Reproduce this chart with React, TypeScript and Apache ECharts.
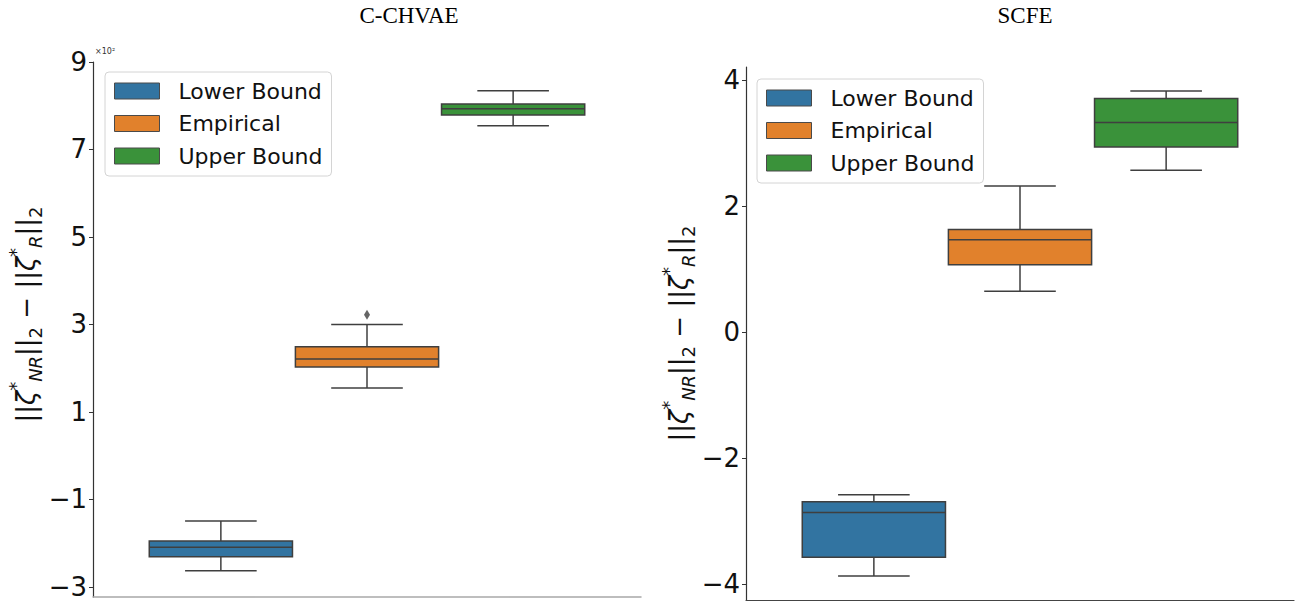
import React, { useEffect, useRef } from 'react';
import * as echarts from 'echarts';

// ---- data ----
const hueNames = ['Lower Bound', 'Empirical', 'Upper Bound'];
const hueColors = ['#3274a1', '#e1812c', '#3a923a'];
const chartTitles = ['C-CHVAE', 'SCFE'];

// box statistics: [min, Q1, median, Q3, max]
const cchvaeLower = [-2.63, -2.31, -2.09, -1.95, -1.49];
const cchvaeEmpirical = [1.55, 2.03, 2.21, 2.49, 3.0];
const cchvaeUpper = [7.54, 7.79, 7.93, 8.04, 8.34];
const cchvaeEmpiricalOutliers = [3.22];

const scfeLower = [-3.87, -3.57, -2.86, -2.69, -2.58];
const scfeEmpirical = [0.65, 1.07, 1.47, 1.63, 2.32];
const scfeUpper = [2.57, 2.94, 3.33, 3.71, 3.83];

const cchvaeTicks = [-3, -1, 1, 3, 5, 7, 9];
const scfeTicks = [-4, -2, 0, 2, 4];

// ---- layout helpers ----
const BOX_W = (0.8 / 3) * 0.98;
const hueOffset = (i: number) => (i - 1) * (0.8 / 3);
const STROKE = '#3f3f3f';
const FONT = 'DejaVu Sans';

function boxSeries(gridIdx: number, hueIdx: number, stats: number[]) {
  return {
    type: 'custom',
    name: hueNames[hueIdx],
    xAxisIndex: gridIdx,
    yAxisIndex: gridIdx,
    itemStyle: { color: hueColors[hueIdx] },
    encode: { x: 0, y: [1, 2, 3, 4, 5] },
    data: [[hueOffset(hueIdx), ...stats]],
    renderItem: (params: any, api: any) => {
      const xc = api.value(0);
      const mn = api.value(1);
      const q1 = api.value(2);
      const md = api.value(3);
      const q3 = api.value(4);
      const mx = api.value(5);
      const hw = BOX_W / 2;
      const cw = BOX_W / 4;
      const c = (x: number, y: number) => api.coord([x, y]);
      const tl = c(xc - hw, q3);
      const br = c(xc + hw, q1);
      const ls = { stroke: STROKE, lineWidth: 1.5 };
      const seg = (a: number[], b: number[]) => ({
        type: 'line',
        shape: { x1: a[0], y1: a[1], x2: b[0], y2: b[1] },
        style: ls,
      });
      return {
        type: 'group',
        children: [
          seg(c(xc, q3), c(xc, mx)),
          seg(c(xc, q1), c(xc, mn)),
          seg(c(xc - cw, mx), c(xc + cw, mx)),
          seg(c(xc - cw, mn), c(xc + cw, mn)),
          {
            type: 'rect',
            shape: { x: tl[0], y: tl[1], width: br[0] - tl[0], height: br[1] - tl[1] },
            style: { fill: hueColors[hueIdx], stroke: STROKE, lineWidth: 1.5 },
          },
          seg(c(xc - hw, md), c(xc + hw, md)),
        ],
      };
    },
  };
}

const nameRich = {
  n: { fontSize: 26, fontFamily: FONT, color: '#111', lineHeight: 38, verticalAlign: 'middle' },
  z: { fontSize: 26, fontFamily: FONT, fontStyle: 'italic', color: '#111', lineHeight: 38, verticalAlign: 'middle' },
  sup: { fontSize: 18, fontFamily: FONT, color: '#111', lineHeight: 38, verticalAlign: 'top' },
  sub: { fontSize: 18, fontFamily: FONT, fontStyle: 'italic', color: '#111', lineHeight: 38, verticalAlign: 'bottom' },
  s2: { fontSize: 18, fontFamily: FONT, color: '#111', lineHeight: 38, verticalAlign: 'bottom' },
};
const yName =
  '{n|||}{z|ζ}{sup|*}{sub|NR}{n|||}{s2|2}{n| − ||}{z|ζ}{sup|*}{sub|R}{n|||}{s2|2}';

const fmt = (v: number) => (v < 0 ? '\u2212' + Math.abs(v) : String(v));

function yAxis(gridIdx: number, min: number, max: number, ticks: number[], namePad: number[]) {
  return {
    type: 'value',
    gridIndex: gridIdx,
    min,
    max,
    name: yName,
    nameLocation: 'middle',
    nameRotate: 90,
    nameGap: 48,
    nameTextStyle: { rich: nameRich, padding: namePad },
    axisLine: { show: true, onZero: false, lineStyle: { color: '#333', width: 1.2 } },
    axisTick: { show: true, length: 4, customValues: ticks, lineStyle: { color: '#333', width: 1 } },
    axisLabel: {
      customValues: ticks,
      formatter: fmt,
      fontSize: 26,
      fontFamily: FONT,
      color: '#111',
      margin: 6,
    },
    splitLine: { show: false },
  };
}

function xAxis(gridIdx: number, color: string, width: number) {
  return {
    type: 'value',
    gridIndex: gridIdx,
    min: -0.5,
    max: 0.5,
    axisLine: { show: true, onZero: false, lineStyle: { color, width } },
    axisTick: { show: false },
    axisLabel: { show: false },
    splitLine: { show: false },
  };
}

function legend(left: number, top: number) {
  return {
    left,
    top,
    orient: 'vertical',
    padding: [8, 9, 9, 9],
    itemWidth: 45,
    itemHeight: 16,
    itemGap: 10.5,
    borderColor: '#d4d4d4',
    borderWidth: 1,
    borderRadius: 4,
    backgroundColor: 'rgba(255,255,255,0.8)',
    selectedMode: false,
    textStyle: { fontSize: 22, fontFamily: FONT, color: '#111', lineHeight: 22, padding: [0, 0, 0, 14] },
    data: hueNames.map((n, i) => ({
      name: n,
      icon: 'rect',
      itemStyle: { color: hueColors[i], borderColor: '#4a4a4a', borderWidth: 1 },
    })),
  };
}

export default function App() {
  const ref = useRef<HTMLDivElement>(null);
  useEffect(() => {
    if (!ref.current) return;
    const chart = echarts.init(ref.current, null, { renderer: 'svg' });
    const option: any = {
      animation: false,
      backgroundColor: '#fff',
      title: [
        {
          text: chartTitles[0],
          left: 409,
          top: 4,
          padding: 0,
          textAlign: 'center',
          textStyle: { fontFamily: 'Liberation Serif', fontWeight: 'normal', fontSize: 23, color: '#000' },
        },
        {
          text: chartTitles[1],
          left: 1025,
          top: 4,
          padding: 0,
          textAlign: 'center',
          textStyle: { fontFamily: 'Liberation Serif', fontWeight: 'normal', fontSize: 23, color: '#000' },
        },
      ],
      grid: [
        { left: 93, top: 62, width: 548, height: 535 },
        { left: 746, top: 67, width: 548, height: 533 },
      ],
      xAxis: [xAxis(0, '#a8a8a8', 1.5), xAxis(1, '#444', 1.2)],
      yAxis: [
        yAxis(0, -3.23, 9, cchvaeTicks, [0, 0, 0, 30]),
        yAxis(1, -4.25, 4.21, scfeTicks, [0, 0, 0, 0]),
      ],
      legend: [legend(105, 72), legend(757, 79)],
      graphic: [
        {
          type: 'text',
          left: 95,
          top: 47,
          style: { text: '×10²', fontSize: 8, fontFamily: FONT, fill: '#333' },
        },
      ],
      series: [
        boxSeries(0, 0, cchvaeLower),
        boxSeries(0, 1, cchvaeEmpirical),
        boxSeries(0, 2, cchvaeUpper),
        {
          type: 'scatter',
          name: hueNames[1],
          xAxisIndex: 0,
          yAxisIndex: 0,
          symbol: 'diamond',
          symbolSize: [6, 10],
          itemStyle: { color: STROKE },
          data: cchvaeEmpiricalOutliers.map((v) => [hueOffset(1), v]),
        },
        boxSeries(1, 0, scfeLower),
        boxSeries(1, 1, scfeEmpirical),
        boxSeries(1, 2, scfeUpper),
      ],
    };
    chart.setOption(option);
    return () => chart.dispose();
  }, []);
  return (
    <div
      ref={ref}
      style={{ position: 'fixed', left: 0, top: 0, width: 1296, height: 603 }}
    />
  );
}
